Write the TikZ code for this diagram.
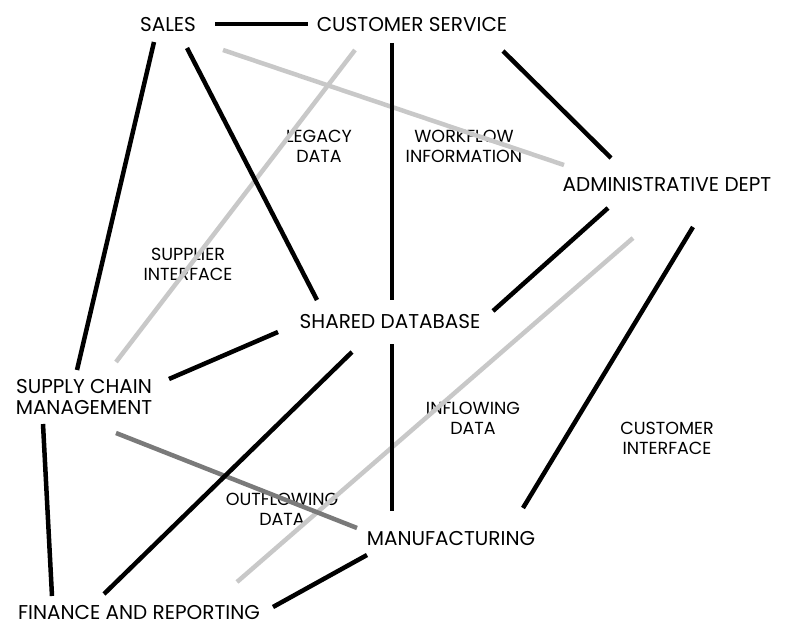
\documentclass[tikz,border=0pt]{standalone}
\usepackage{fontspec}
\setmainfont{Poppins}
\usetikzlibrary{calc}
\begin{document}
\begin{tikzpicture}[x=1pt,y=-1pt,
  box/.style={inner sep=0pt,font=\fontsize{20}{21}\selectfont,align=center},
  lab/.style={inner sep=0pt,font=\fontsize{17.5}{20}\selectfont,align=center},
  link/.style={line width=4.5pt,black},
  soft/.style={line width=4.5pt,color={rgb,255:red,200;green,200;blue,200}},
  mid/.style={line width=4.5pt,color={rgb,255:red,122;green,122;blue,122}}]
\useasboundingbox (0,0) rectangle (788,634);
% nodes
\node[box] (sales) at (168,25) {SALES};
\node[box] (cs) at (412,25) {CUSTOMER SERVICE};
\node[box] (admin) at (667,185) {ADMINISTRATIVE DEPT};
\node[box] (shared) at (390,322) {SHARED DATABASE};
\node[box] (scm) at (84,397) {SUPPLY CHAIN\\MANAGEMENT};
\node[box] (manuf) at (451,539) {MANUFACTURING};
\node[box] (fin) at (139,613) {FINANCE AND REPORTING};
% labels
\node[lab] (l1) at (319,146) {LEGACY\\DATA};
\node[lab] (l2) at (464,146) {WORKFLOW\\INFORMATION};
\node[lab] (l3) at (188,264) {SUPPLIER\\INTERFACE};
\node[lab] (l4) at (473,418) {INFLOWING\\DATA};
\node[lab] (l5) at (667,438) {CUSTOMER\\INTERFACE};
\node[lab] (l6) at (282,509) {OUTFLOWING\\DATA};
% gray connectors
\draw[soft] ($(sales)+(55,25)$) -- ($(admin)+(-103,-20)$);
\draw[soft] ($(cs)+(-57,25)$) -- ($(scm)+(32,-35)$);
\draw[soft] ($(admin)+(-34,53)$) -- ($(fin)+(98,-31)$);
\draw[mid] ($(scm)+(32,36)$) -- ($(manuf)+(-94,-11)$);
% black connectors
\draw[link] ($(sales)+(47,-1)$) -- ($(cs)+(-104,-1)$);
\draw[link] ($(sales)+(-14,17)$) -- ($(scm)+(-7,-27)$);
\draw[link] ($(sales)+(19,23)$) -- ($(shared)+(-73,-22)$);
\draw[link] ($(cs)+(-20,18)$) -- ($(shared)+(2,-22)$);
\draw[link] ($(cs)+(91,26)$) -- ($(admin)+(-56,-27)$);
\draw[link] ($(admin)+(-59,23)$) -- ($(shared)+(103,-11)$);
\draw[link] ($(admin)+(26,42)$) -- ($(manuf)+(72,-31)$);
\draw[link] ($(shared)+(-112,10)$) -- ($(scm)+(85,-18)$);
\draw[link] ($(shared)+(-38,30)$) -- ($(fin)+(-35,-19)$);
\draw[link] ($(shared)+(2,22)$) -- ($(manuf)+(-59,-28)$);
\draw[link] ($(scm)+(-41,27)$) -- ($(fin)+(-87,-17)$);
\draw[link] ($(manuf)+(-84,16)$) -- ($(fin)+(134,-6)$);
\end{tikzpicture}
\end{document}
